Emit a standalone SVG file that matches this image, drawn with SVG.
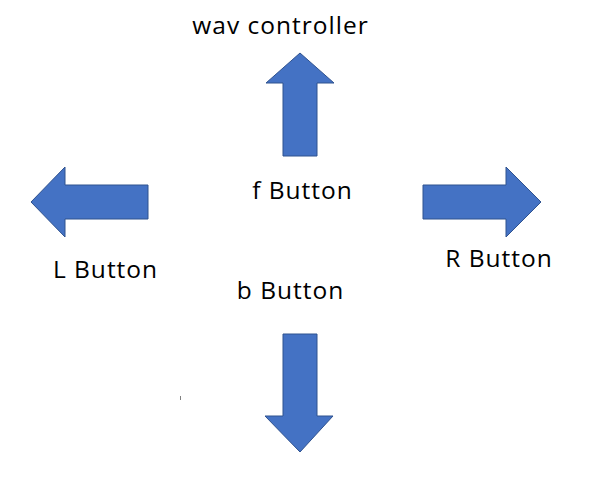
<svg xmlns="http://www.w3.org/2000/svg" width="599" height="504" viewBox="0 0 599 504">
<style>
.arrow{fill:#4472C4;stroke:#2F528F;stroke-width:1}
.lbl{font-family:"Open Sans","Liberation Sans",sans-serif;font-size:24.5px;letter-spacing:1px;fill:#000;text-anchor:middle}
</style>
<rect width="599" height="504" fill="#fff"/>
<g id="up-arrow"><polygon class="arrow" points="300,53 334,83 317,83 317,156 283,156 283,83 266,83"/></g>
<g id="left-arrow"><polygon class="arrow" points="31,202 65,167 65,185 148,185 148,219 65,219 65,237"/></g>
<g id="right-arrow"><polygon class="arrow" points="541,202 506,167 506,185 423,185 423,219 506,219 506,237"/></g>
<g id="down-arrow"><polygon class="arrow" points="300,452 333,416 317,416 317,334 283,334 283,416 265,416"/></g>
<g id="label-wav"><text class="lbl" x="280.5" y="34">wav controller</text></g>
<g id="label-f"><text class="lbl" x="302.5" y="199">f Button</text></g>
<g id="label-L"><text class="lbl" x="105.5" y="278">L Button</text></g>
<g id="label-R"><text class="lbl" x="499" y="267">R Button</text></g>
<g id="label-b"><text class="lbl" x="290.5" y="299">b Button</text></g>
<line x1="180.5" y1="396" x2="180.5" y2="400" stroke="#808080" stroke-width="1"/>
</svg>
